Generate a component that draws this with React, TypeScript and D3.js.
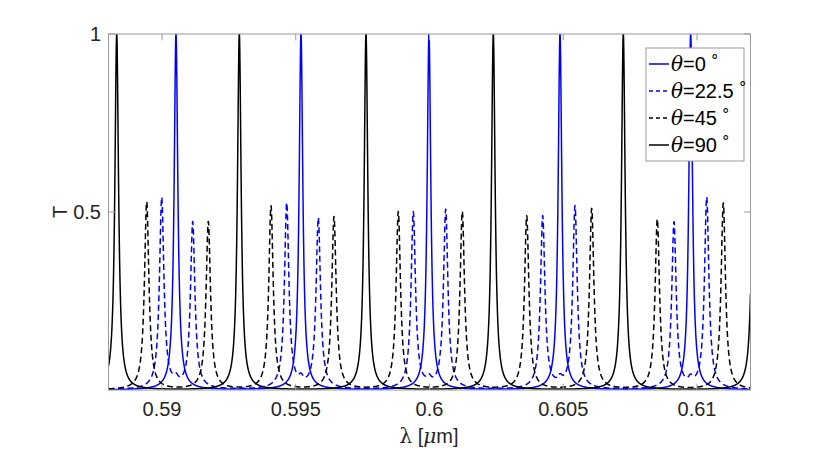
import React from "react";
import * as d3 from "d3";

// Peak centres (λ, µm) and peak transmissions
const peaks0: [number, number][] = [
  [0.590523, 1], [0.595196, 1], [0.599981, 1], [0.604879, 1], [0.609764, 1],
];
const peaks22: [number, number][] = [
  [0.589989, 0.537], [0.591148, 0.468], [0.594662, 0.521], [0.595843, 0.479],
  [0.599394, 0.496], [0.600606, 0.503], [0.604232, 0.485], [0.605439, 0.513],
  [0.60914, 0.468], [0.610363, 0.538],
  [0.590523, 0.018], [0.595196, 0.018], [0.599981, 0.018], [0.604879, 0.018], [0.609764, 0.018],
];
const peaks45: [number, number][] = [
  [0.589428, 0.528], [0.591731, 0.471], [0.594075, 0.515], [0.59643, 0.485],
  [0.598834, 0.499], [0.601226, 0.499], [0.603634, 0.487], [0.606064, 0.508],
  [0.608516, 0.478], [0.610983, 0.524],
];
const peaks90: [number, number][] = [
  [0.588307, 1], [0.59289, 1], [0.597626, 1], [0.602385, 1], [0.607245, 1], [0.612135, 1],
];
const halfWidths = [8.2e-5, 1.0e-4, 1.0e-4, 8.2e-5];
const seriesLabels = ["0", "22.5", "45", "90"];
const xTicks = [0.59, 0.595, 0.6, 0.605, 0.61];
const xTickLabels = ["0.59", "0.595", "0.6", "0.605", "0.61"];
const yTicks = [0.5, 1];
const yTickLabels = ["0.5", "1"];

const W = 830, H = 449;
const L = 108.5, R = 750.5, T0 = 34, B = 390;
const FONT = "'Liberation Sans', Arial, Helvetica, sans-serif";

function spectrum(pk: [number, number][], g: number): [number, number][] {
  const xs: number[] = [];
  for (let l = 0.588; l <= 0.612 + 1e-9; l += 1.5e-6) xs.push(l);
  pk.forEach((p) => xs.push(p[0]));
  xs.sort((a, b) => a - b);
  return xs
    .filter((l) => l >= 0.588 && l <= 0.612)
    .map((l) => {
      let t = 0;
      pk.forEach(([c, h]) => {
        const d = (l - c) / g;
        t += h / (1 + d * d);
      });
      return [l, Math.min(t, 1)] as [number, number];
    });
}

export default function App() {
  const x = d3.scaleLinear().domain([0.588, 0.612]).range([L, R]);
  const y = d3.scaleLinear().domain([0, 1]).range([B, T0]);
  const line = d3
    .line<[number, number]>()
    .x((d) => x(d[0]))
    .y((d) => y(d[1]));

  const series = [
    { pk: peaks0, color: "#0000ff", dash: undefined },
    { pk: peaks22, color: "#0000ff", dash: "6,3.5" },
    { pk: peaks45, color: "#000000", dash: "6,3.5" },
    { pk: peaks90, color: "#000000", dash: undefined },
  ];

  const axisCol = "#9a9a9a";
  const textCol = "#262626";
  const tickLen = 6.4;

  const legX = 646, legY = 48, legW = 98, legH = 113;
  const rowY = [64, 91, 118, 145];

  return (
    <svg width={W} height={H} style={{ position: "absolute", left: 0, top: 0, background: "#fff" }}>
      <defs>
        <clipPath id="plotclip">
          <rect x={L} y={T0} width={R - L} height={B - T0} />
        </clipPath>
      </defs>
      <rect x={0} y={0} width={W} height={H} fill="#fff" />
      <g clipPath="url(#plotclip)">
        {series.map((s, i) => (
          <path
            key={i}
            d={line(spectrum(s.pk, halfWidths[i])) || ""}
            fill="none"
            stroke={s.color}
            strokeWidth={1.5}
            strokeDasharray={s.dash}
            strokeLinejoin="round"
          />
        ))}
      </g>
      {/* box */}
      <rect x={L} y={T0} width={R - L} height={B - T0} fill="none" stroke={axisCol} strokeWidth={1} />
      {/* x ticks */}
      {xTicks.map((t, i) => (
        <g key={"x" + i}>
          <line x1={x(t)} x2={x(t)} y1={B} y2={B - tickLen} stroke={axisCol} />
          <line x1={x(t)} x2={x(t)} y1={T0} y2={T0 + tickLen} stroke={axisCol} />
          <text x={x(t)} y={416} textAnchor="middle" fontFamily={FONT} fontSize={20} fill={textCol}>
            {xTickLabels[i]}
          </text>
        </g>
      ))}
      {/* y ticks */}
      {yTicks.map((t, i) => (
        <g key={"y" + i}>
          <line x1={L} x2={L + tickLen} y1={y(t)} y2={y(t)} stroke={axisCol} />
          <line x1={R} x2={R - tickLen} y1={y(t)} y2={y(t)} stroke={axisCol} />
          <text x={101} y={y(t) + 7} textAnchor="end" fontFamily={FONT} fontSize={20} fill={textCol}>
            {yTickLabels[i]}
          </text>
        </g>
      ))}
      {/* axis labels */}
      <text
        transform={`translate(66.5,${(T0 + B) / 2}) rotate(-90)`}
        textAnchor="middle"
        fontFamily={FONT}
        fontSize={20}
        fill={textCol}
      >
        T
      </text>
      <text x={429} y={443} textAnchor="middle" fontFamily={FONT} fontSize={20} fill={textCol}>
        <tspan fontFamily="'DejaVu Serif', serif">λ</tspan>
        <tspan> [</tspan>
        <tspan fontStyle="italic" fontFamily="'DejaVu Serif', serif">μ</tspan>
        <tspan>m]</tspan>
      </text>
      {/* legend */}
      <rect x={legX} y={legY} width={legW} height={legH} fill="#fff" stroke={axisCol} strokeWidth={1} />
      {series.map((s, i) => (
        <g key={"lg" + i}>
          <line
            x1={649}
            x2={669}
            y1={rowY[i]}
            y2={rowY[i]}
            stroke={s.color}
            strokeWidth={1.5}
            strokeDasharray={s.dash ? "4,3" : undefined}
          />
          <text x={671} y={rowY[i] + 7} fontFamily={FONT} fontSize={20} fill="#000">
            <tspan fontStyle="italic" fontFamily="'DejaVu Serif', serif">θ</tspan>
            <tspan>={seriesLabels[i]}</tspan>
            <tspan dx={4} dy={-10} fontSize={15}>∘</tspan>
          </text>
        </g>
      ))}
    </svg>
  );
}
